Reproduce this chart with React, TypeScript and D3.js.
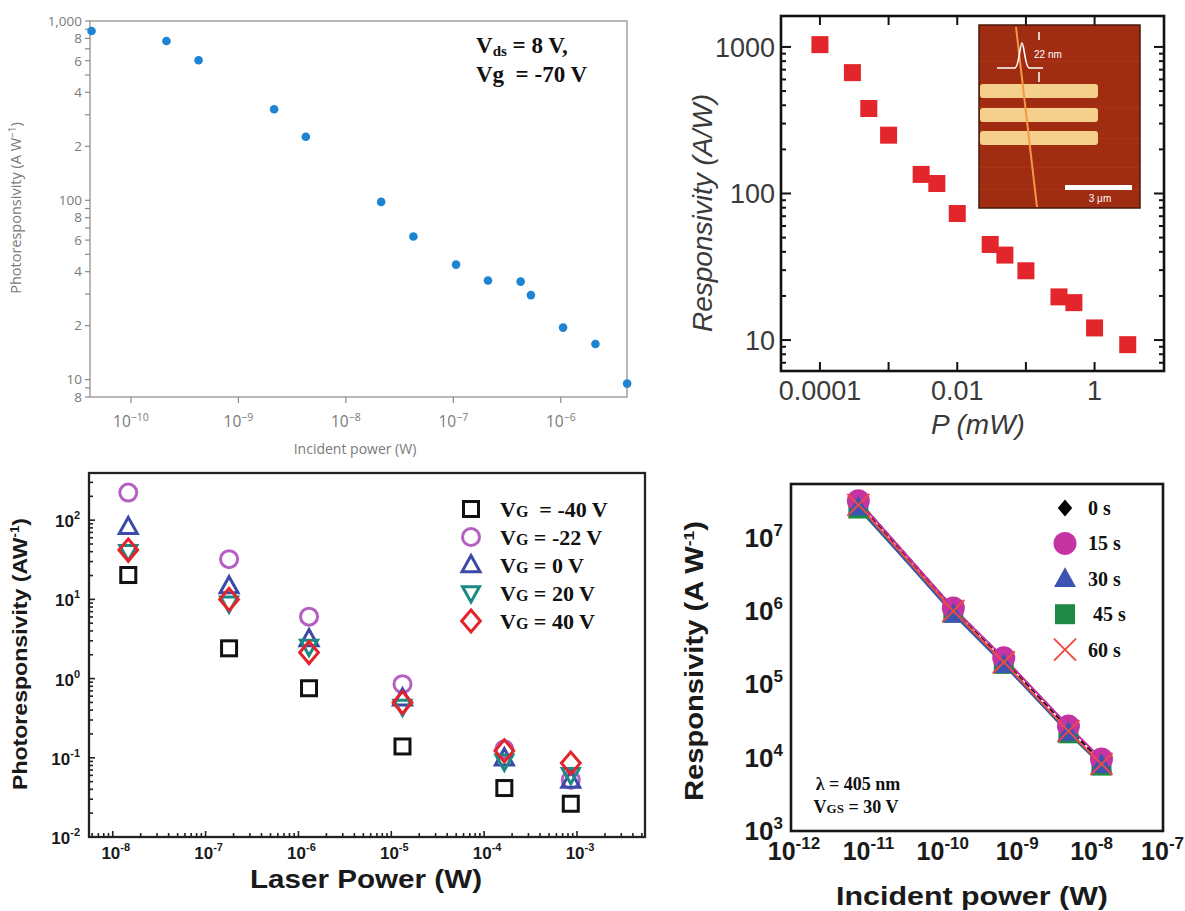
import React from 'react';
import * as d3 from 'd3';

// ---- panel A: photoresponsivity vs incident power ----
const powerA = [4.3e-11, 2.14e-10, 4.26e-10, 2.15e-9, 4.24e-9, 2.13e-8, 4.25e-8, 1.06e-7, 2.1e-7, 4.23e-7, 5.27e-7, 1.05e-6, 2.1e-6, 4.14e-6];
const respA = [880, 774, 604, 322, 226, 98, 62.8, 43.8, 35.7, 35.2, 29.6, 19.5, 15.8, 9.5];
const xTicksA = [1e-10, 1e-9, 1e-8, 1e-7, 1e-6];
const xExpA = ['−10', '−9', '−8', '−7', '−6'];
const yLabeledA = [8, 10, 20, 40, 60, 80, 100, 200, 400, 600, 800, 1000];

// ---- panel B: responsivity vs P (mW) ----
const powerB = [1e-4, 2.97e-4, 5.15e-4, 1e-3, 2.98e-3, 5.04e-3, 0.01, 0.0302, 0.0494, 0.1, 0.303, 0.5, 1, 3.04];
const respB = [1037, 668, 380, 250, 135, 117, 73, 44.9, 38, 29.7, 19.7, 18, 12.1, 9.3];
const xTicksB = [1e-4, 1e-3, 1e-2, 1e-1, 1];
const xLabelsB = ['0.0001', '', '0.01', '', '1'];
const yTicksB = [10, 100, 1000];

// ---- panel C: photoresponsivity vs laser power, several gate voltages ----
const powerC = [1.47e-8, 1.79e-7, 1.3e-6, 1.32e-5, 1.65e-4, 8.57e-4];
const gateLabels = ['  = -40 V', ' = -22 V', ' = 0 V', ' = 20 V', ' = 40 V'];
const respCm40 = [20.3, 2.41, 0.755, 0.139, 0.0415, 0.0263];
const respCm22 = [223, 32.2, 6.05, 0.85, 0.128, 0.0528];
const respC0 = [82.4, 14.7, 3.16, 0.565, 0.099, 0.0518];
const respC20 = [39.9, 8.9, 2.53, 0.444, 0.09, 0.061];
const respC40 = [41.9, 10, 2.13, 0.498, 0.1225, 0.0857];
const yExpC = [2, 1, 0, -1, -2];
const xExpC = [-8, -7, -6, -5, -4, -3];

// ---- panel D: responsivity vs incident power, several times ----
const powerD = [8.04e-12, 1.52e-10, 7.24e-10, 5.36e-9, 1.49e-8];
const timeLabels = ['0 s', '15 s', '30 s', ' 45 s', '60 s'];
const respD0 = [2.9e7, 1.0e6, 2.1e5, 2.4e4, 8.6e3];
const respD15 = [3.2e7, 1.1e6, 2.3e5, 2.7e4, 9.6e3];
const respD30 = [2.6e7, 0.9e6, 1.85e5, 2.2e4, 8.0e3];
const respD45 = [2.5e7, 0.95e6, 1.9e5, 2.15e4, 7.8e3];
const respD60 = [2.8e7, 1.0e6, 2.0e5, 2.3e4, 8.2e3];
const yExpD = [3, 4, 5, 6, 7];
const xExpD = [-12, -11, -10, -9, -8, -7];

const SANS = 'Liberation Sans, Arial, sans-serif';
const SERIF = 'Liberation Serif, Times New Roman, serif';
const PRE = { whiteSpace: 'pre' as const };

// all k*10^n inside a log domain
function logTicks(lo: number, hi: number) {
  const out: number[] = [];
  for (let e = Math.floor(Math.log10(lo)); e <= Math.ceil(Math.log10(hi)); e++) {
    for (let k = 1; k < 10; k++) {
      const v = k * Math.pow(10, e);
      if (v >= lo * 0.999 && v <= hi * 1.001) out.push(v);
    }
  }
  return out;
}
const isDecade = (v: number) => Math.abs(Math.log10(v) - Math.round(Math.log10(v))) < 1e-6;

function Marker({ shape, x, y, s, color, filled = false, sw = 2.5 }: any) {
  const fill = filled ? color : 'none';
  const stroke = filled ? 'none' : color;
  const h = s / 2;
  switch (shape) {
    case 'square':
      return <rect x={x - h} y={y - h} width={s} height={s} fill={fill} stroke={stroke} strokeWidth={sw} />;
    case 'circle':
      return <circle cx={x} cy={y} r={h} fill={fill} stroke={stroke} strokeWidth={sw} />;
    case 'up':
      return <path d={`M${x},${y - h * 1.05}L${x + h},${y + h * 0.75}L${x - h},${y + h * 0.75}Z`} fill={fill} stroke={stroke} strokeWidth={sw} />;
    case 'down':
      return <path d={`M${x},${y + h * 1.05}L${x + h},${y - h * 0.75}L${x - h},${y - h * 0.75}Z`} fill={fill} stroke={stroke} strokeWidth={sw} />;
    case 'diamond':
      return <path d={`M${x},${y - h}L${x + h * 0.85},${y}L${x},${y + h}L${x - h * 0.85},${y}Z`} fill={fill} stroke={stroke} strokeWidth={sw} />;
    default:
      return (
        <g stroke={color} strokeWidth={sw}>
          <line x1={x - h} y1={y - h} x2={x + h} y2={y + h} />
          <line x1={x - h} y1={y + h} x2={x + h} y2={y - h} />
        </g>
      );
  }
}

function PanelA() {
  const x = d3.scaleLog().domain([4.16e-11, 4.13e-6]).range([90, 627]);
  const y = d3.scaleLog().domain([8, 1000]).range([397, 21]);
  const [x0, x1] = x.range();
  const [y0, y1] = y.range();
  const grey = '#7a7a7a';
  const fmt = (v: number) => (isDecade(v) ? d3.format(',')(v) : String(Math.round(v / Math.pow(10, Math.floor(Math.log10(v) + 1e-9)))));
  return (
    <g fontFamily="Open Sans, Lato, sans-serif" fill={grey}>
      <rect x={x0} y={y1} width={x1 - x0} height={y0 - y1} fill="none" stroke="#9a9a9a" strokeWidth={1.4} />
      {logTicks(8, 1000).map(v => (
        <line key={v} x1={x0 - 5} x2={x0} y1={y(v)} y2={y(v)} stroke="#8a8a8a" strokeWidth={1.2} />
      ))}
      {yLabeledA.map(v => (
        <text key={v} x={x0 - 8} y={y(v)} dy="0.35em" textAnchor="end" fontSize={13.5}>{fmt(v)}</text>
      ))}
      {xTicksA.map((v, i) => (
        <g key={v}>
          <line x1={x(v)} x2={x(v)} y1={y0} y2={y0 + 6} stroke="#8a8a8a" strokeWidth={1.2} />
          <text x={x(v)} y={y0 + 30} textAnchor="middle" fontSize={15.5}>
            10<tspan dy={-6} fontSize={10.5}>{xExpA[i]}</tspan>
          </text>
        </g>
      ))}
      <text x={355} y={454} textAnchor="middle" fontSize={14}>Incident power (W)</text>
      <text transform={`translate(21,208) rotate(-90)`} textAnchor="middle" fontSize={14.5}>
        Photoresponsivity (A W<tspan dy={-5} fontSize={10}>−1</tspan><tspan dy={5}>)</tspan>
      </text>
      {powerA.map((p, i) => (
        <circle key={i} cx={x(p)} cy={y(respA[i])} r={4.3} fill="#1c84d2" />
      ))}
      <g fontFamily={SERIF} fontWeight="bold" fill="#111" fontSize={23}>
        <text x={476} y={53} style={PRE}>V<tspan fontSize={15} dy={3}>ds</tspan><tspan dy={-3}> = 8 V,</tspan></text>
        <text x={476} y={82} style={PRE}>Vg  = -70 V</text>
      </g>
    </g>
  );
}

function PanelB() {
  const x = d3.scaleLog().domain([2.71e-5, 10.26]).range([781, 1164]);
  const y = d3.scaleLog().domain([6.15, 1626]).range([371, 16]);
  const [x0, x1] = x.range();
  const [y0, y1] = y.range();
  const ix = 979, iy = 25, iw = 161, ih = 183; // inset picture box
  return (
    <g fontFamily={SANS} fill="#3a3a3a">
      {logTicks(6.15, 1626).map(v => {
        const len = isDecade(v) ? 10 : 5;
        return (
          <g key={v} stroke="#111" strokeWidth={2}>
            <line x1={x0} x2={x0 + len} y1={y(v)} y2={y(v)} />
            <line x1={x1} x2={x1 - len} y1={y(v)} y2={y(v)} />
          </g>
        );
      })}
      {xTicksB.map((v, i) => (
        <g key={v}>
          <line x1={x(v)} x2={x(v)} y1={y0} y2={y0 - 9} stroke="#111" strokeWidth={2} />
          <line x1={x(v)} x2={x(v)} y1={y1} y2={y1 + 9} stroke="#111" strokeWidth={2} />
          <text x={x(v)} y={400} textAnchor="middle" fontSize={27}>{xLabelsB[i]}</text>
        </g>
      ))}
      {yTicksB.map(v => (
        <text key={v} x={x0 - 6} y={y(v)} dy="0.36em" textAnchor="end" fontSize={27}>{v}</text>
      ))}
      <rect x={x0} y={y1} width={x1 - x0} height={y0 - y1} fill="none" stroke="#111" strokeWidth={2.6} />
      <text transform="translate(712,213) rotate(-90)" textAnchor="middle" fontSize={28} fontStyle="italic">Responsivity (A/W)</text>
      <text x={978} y={434} textAnchor="middle" fontSize={28} fontStyle="italic">P (mW)</text>
      {powerB.map((p, i) => (
        <rect key={i} x={x(p) - 8.5} y={y(respB[i]) - 8.5} width={17} height={17} fill="#e2262b" />
      ))}
      {/* inset AFM picture */}
      <g>
        <rect x={ix} y={iy} width={iw} height={ih} fill="#a02c12" stroke="#4a1a0a" strokeWidth={1.5} />
        {[0.2, 0.45, 0.62, 0.78, 0.9].map(f => (
          <line key={f} x1={ix} x2={ix + iw} y1={iy + ih * f} y2={iy + ih * f} stroke="#b33a1a" strokeWidth={1} opacity={0.6} />
        ))}
        {[59, 83, 106].map(o => (
          <rect key={o} x={ix + 1} y={iy + o} width={118} height={14} rx={3} fill="#f4d08c" />
        ))}
        <line x1={ix + 37} y1={iy + 2} x2={ix + 58} y2={iy + ih - 1} stroke="#f29a45" strokeWidth={2} />
        <path d={`M${ix + 18},${iy + 43} L${ix + 36},${iy + 43} C${ix + 40},${iy + 42} ${ix + 41},${iy + 18} ${ix + 43},${iy + 18} C${ix + 45},${iy + 18} ${ix + 46},${iy + 42} ${ix + 50},${iy + 43} L${ix + 64},${iy + 43}`} fill="none" stroke="#fff" strokeWidth={1.6} />
        <line x1={ix + 60} x2={ix + 60} y1={iy + 7} y2={iy + 15} stroke="#fff" strokeWidth={1.5} />
        <line x1={ix + 60} x2={ix + 60} y1={iy + 47} y2={iy + 57} stroke="#fff" strokeWidth={1.5} />
        <text x={ix + 55} y={iy + 33} fontSize={10} fill="#fff">22 nm</text>
        <rect x={ix + 86} y={iy + 160} width={67} height={5} fill="#fff" />
        <text x={ix + 121} y={iy + 177} fontSize={10} fill="#fff" textAnchor="middle">3 μm</text>
      </g>
    </g>
  );
}

function PanelC() {
  const x = d3.scaleLog().domain([5.55e-9, 5.4e-3]).range([89, 645]);
  const y = d3.scaleLog().domain([0.01, 394]).range([837, 473]);
  const [x0, x1] = x.range();
  const [y0, y1] = y.range();
  const series = [
    { shape: 'square', color: '#111111', s: 15, values: respCm40 },
    { shape: 'circle', color: '#b55fc2', s: 17, values: respCm22 },
    { shape: 'up', color: '#3b4aa9', s: 18, values: respC0 },
    { shape: 'down', color: '#1b8a84', s: 17, values: respC20 },
    { shape: 'diamond', color: '#e5232a', s: 22, values: respC40 },
  ];
  return (
    <g fontFamily={SANS} fontWeight="bold" fill="#1a1a1a">
      {logTicks(5.55e-9, 5.4e-3).map(v => (
        <line key={v} x1={x(v)} x2={x(v)} y1={y0} y2={y0 - (isDecade(v) ? 6 : 4)} stroke="#222" strokeWidth={1.6} />
      ))}
      {logTicks(0.01, 394).map(v => (
        <line key={v} x1={x0} x2={x0 + (isDecade(v) ? 6 : 4)} y1={y(v)} y2={y(v)} stroke="#222" strokeWidth={1.6} />
      ))}
      <rect x={x0} y={y1} width={x1 - x0} height={y0 - y1} fill="none" stroke="#222" strokeWidth={2.3} />
      {yExpC.map(e => (
        <text key={e} x={x0 - 9} y={y(Math.pow(10, e)) + 7} textAnchor="end" fontSize={17}>
          10<tspan dy={-8} fontSize={11}>{e}</tspan>
        </text>
      ))}
      {xExpC.map(e => (
        <text key={e} x={x(Math.pow(10, e)) + 3} y={859} textAnchor="middle" fontSize={17}>
          10<tspan dy={-8} fontSize={11}>{e}</tspan>
        </text>
      ))}
      <text transform="translate(27,654) rotate(-90)" textAnchor="middle" fontSize={21} textLength={272} lengthAdjust="spacingAndGlyphs">
        Photoresponsivity (AW<tspan dy={-8} fontSize={12}>-1</tspan><tspan dy={8}>)</tspan>
      </text>
      <text x={366} y={888} textAnchor="middle" fontSize={25} textLength={232} lengthAdjust="spacingAndGlyphs">Laser Power (W)</text>
      {series.map((sr, k) => (
        <g key={k}>
          {powerC.map((p, i) => (
            <Marker key={i} shape={sr.shape} x={x(p)} y={y(sr.values[i])} s={sr.s} color={sr.color} sw={3} />
          ))}
        </g>
      ))}
      {series.map((sr, k) => (
        <g key={k} transform={`translate(0,${509 + k * 28})`}>
          <Marker shape={sr.shape} x={471} y={0} s={sr.s} color={sr.color} sw={3} />
          <text x={500} y={8} fontFamily={SERIF} fontSize={22} fill="#111" style={PRE}>
            V<tspan fontSize={16}>G</tspan>{gateLabels[k]}
          </text>
        </g>
      ))}
    </g>
  );
}

function PanelD() {
  const x = d3.scaleLog().domain([1e-12, 1e-7]).range([791, 1163]);
  const y = d3.scaleLog().domain([1e3, 5.4e7]).range([831, 484]);
  const [x0, x1] = x.range();
  const [y0, y1] = y.range();
  const series = [
    { shape: 'diamond', color: '#000000', s: 17, values: respD0, dash: '6,3' },
    { shape: 'square', color: '#1f8a45', s: 20, values: respD45 },
    { shape: 'circle', color: '#c633a3', s: 23, values: respD15 },
    { shape: 'up', color: '#3c55b2', s: 22, values: respD30 },
    { shape: 'cross', color: '#ef4a42', s: 22, values: respD60 },
  ];
  const legendOrder = [0, 2, 3, 1, 4];
  const line = d3.line<number>().x((_, i) => x(powerD[i])).y(v => y(v));
  return (
    <g fontFamily={SANS} fontWeight="bold" fill="#1a1a1a">
      <rect x={x0} y={y1} width={x1 - x0} height={y0 - y1} fill="none" stroke="#161616" strokeWidth={2.6} />
      {yExpD.map(e => (
        <text key={e} x={x0 - 8} y={y(Math.pow(10, e)) + 9} textAnchor="end" fontSize={26}>
          10<tspan dy={-11} fontSize={17}>{e}</tspan>
        </text>
      ))}
      {xExpD.map((e, i) => {
        const last = i === xExpD.length - 1;
        return (
          <text key={e} x={last ? 1184 : x(Math.pow(10, e)) + 3} y={860} textAnchor={last ? 'end' : 'middle'} fontSize={25}>
            10<tspan dy={-11} fontSize={17}>{e}</tspan>
          </text>
        );
      })}
      <text transform="translate(703,661) rotate(-90)" textAnchor="middle" fontSize={25} textLength={280} lengthAdjust="spacingAndGlyphs">
        Responsivity (A W<tspan dy={-9} fontSize={15}>-1</tspan><tspan dy={9}>)</tspan>
      </text>
      <text x={972} y={905} textAnchor="middle" fontSize={26} textLength={272} lengthAdjust="spacingAndGlyphs">Incident power (W)</text>
      {series.map((sr, k) => (
        <path key={k} d={line(sr.values) || ''} fill="none" stroke={sr.color} strokeWidth={sr.dash ? 3 : 2} strokeDasharray={sr.dash} transform={sr.dash ? 'translate(2,0)' : undefined} />
      ))}
      {series.map((sr, k) => (
        <g key={k}>
          {powerD.map((p, i) => (
            <Marker key={i} shape={sr.shape} x={x(p)} y={y(sr.values[i])} s={sr.s} color={sr.color} filled={sr.shape !== 'cross'} sw={2} />
          ))}
        </g>
      ))}
      {legendOrder.map((k, r) => {
        const sr = series[k];
        return (
          <g key={k} transform={`translate(0,${508 + r * 35.4})`}>
            <Marker shape={sr.shape} x={1065} y={0} s={sr.s} color={sr.color} filled={sr.shape !== 'cross'} sw={2} />
            <text x={1088} y={7} fontFamily={SERIF} fontSize={20} fill="#111" style={PRE}>{timeLabels[r]}</text>
          </g>
        );
      })}
      <g fontFamily={SERIF} fontSize={18} fill="#111">
        <text x={858} y={790} textAnchor="middle">λ = 405 nm</text>
        <text x={856} y={813} textAnchor="middle">V<tspan fontSize={13}>GS</tspan> = 30 V</text>
      </g>
    </g>
  );
}

export default function App() {
  return (
    <div>
      <style>{'body{margin:0}'}</style>
      <svg width={1185} height={911} style={{ display: 'block', background: '#fff' }}>
        <PanelA />
        <PanelB />
        <PanelC />
        <PanelD />
      </svg>
    </div>
  );
}
